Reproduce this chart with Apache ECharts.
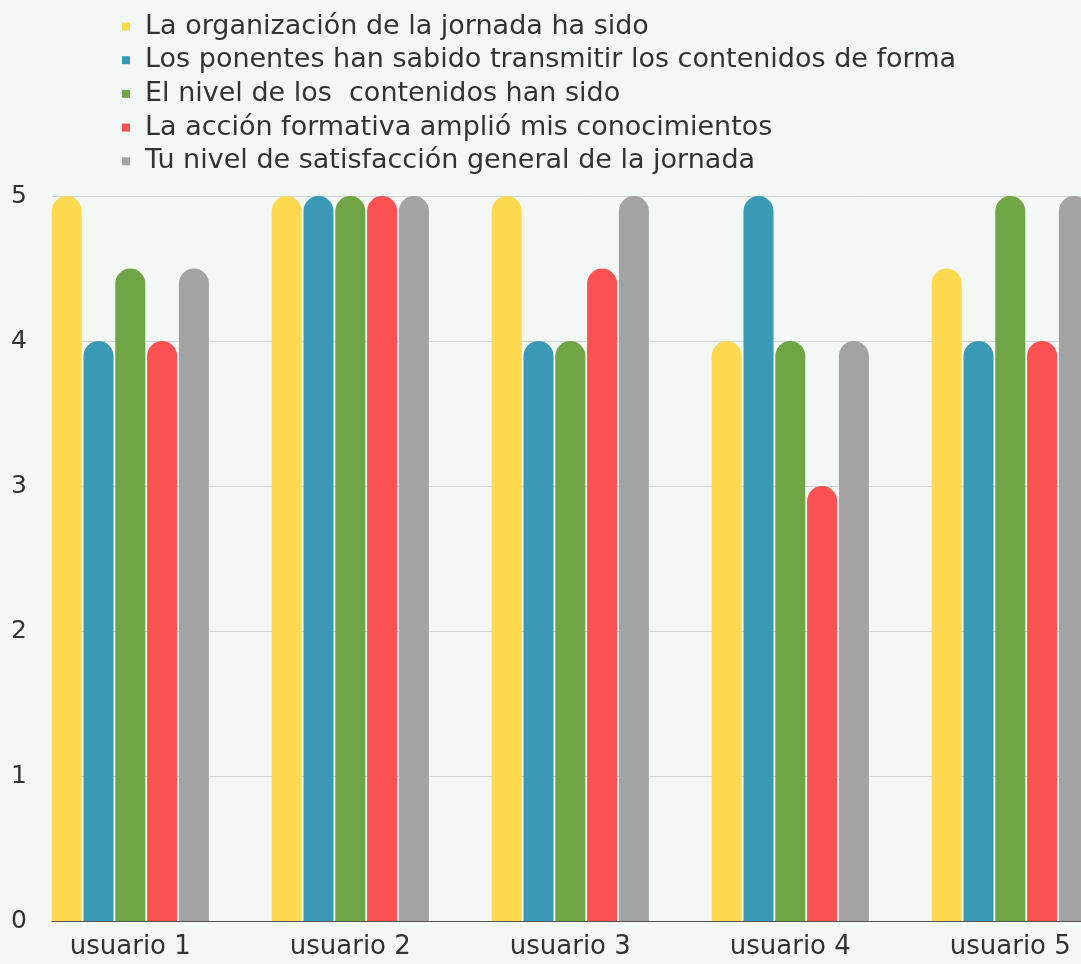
<!DOCTYPE html>
<html>
<head>
<meta charset="utf-8">
<script src="https://cdn.jsdelivr.net/npm/echarts@6/dist/echarts.min.js"></script>
<style>
  html, body { margin: 0; padding: 0; background: #f3f7f5; overflow: hidden; }
  #chart { width: 1125px; height: 964px; }
</style>
</head>
<body>
<div id="chart"></div>
<script>
const users = ['usuario 1', 'usuario 2', 'usuario 3', 'usuario 4', 'usuario 5'];
const seriesNames = [
  'La organización de la jornada ha sido',
  'Los ponentes han sabido transmitir los contenidos de forma',
  'El nivel de los  contenidos han sido',
  'La acción formativa amplió mis conocimientos',
  'Tu nivel de satisfacción general de la jornada'
];
const organizacion = [5, 5, 5, 4, 4.5];
const ponentes = [4, 5, 4, 5, 4];
const nivel = [4.5, 5, 4, 4, 5];
const accion = [4, 5, 4.5, 3, 4];
const satisfaccion = [4.5, 5, 5, 4, 5];
const colors = ['#fdd94f', '#3a9ab5', '#6fa545', '#fa5252', '#a3a3a3'];

const font = 'DejaVu Sans';
const chart = echarts.init(document.getElementById('chart'));

const values = [organizacion, ponentes, nivel, accion, satisfaccion];
const series = values.map((data, i) => ({
  name: seriesNames[i],
  type: 'bar',
  xAxisIndex: 0,
  yAxisIndex: 0,
  barWidth: 30,
  barGap: '6%',
  itemStyle: {
    color: colors[i],
    borderRadius: [15, 15, 0, 0]
  },
  data: data
}));

const option = {
  backgroundColor: '#f3f7f5',
  animation: false,
  color: colors,
  legend: {
    orient: 'vertical',
    left: 117,
    top: 8,
    icon: 'rect',
    itemWidth: 8,
    itemHeight: 8,
    itemGap: 6.7,
    data: seriesNames,
    textStyle: {
      fontFamily: font,
      fontSize: 27,
      lineHeight: 27,
      color: '#333',
      padding: [0, 0, 0, 10]
    }
  },
  grid: [
    { left: 20.3, top: 196, width: 1100, height: 725 },
    { left: 52, top: 196, right: 0, height: 725 }
  ],
  xAxis: [
    {
      type: 'category',
      gridIndex: 0,
      data: users,
      axisLine: { show: false },
      axisTick: { show: false },
      axisLabel: { fontFamily: font, fontSize: 26, color: '#333', margin: 13 }
    },
    {
      type: 'value',
      gridIndex: 1,
      min: 0,
      max: 1,
      axisLine: { show: true, lineStyle: { color: '#555', width: 1 } },
      axisTick: { show: false },
      axisLabel: { show: false },
      splitLine: { show: false }
    }
  ],
  yAxis: [
    {
      type: 'value',
      gridIndex: 0,
      min: 0,
      max: 5,
      interval: 1,
      axisLine: { show: false },
      axisTick: { show: false },
      axisLabel: { show: false },
      splitLine: { show: false }
    },
    {
      type: 'value',
      gridIndex: 1,
      min: 0,
      max: 5,
      interval: 1,
      axisLine: { show: false },
      axisTick: { show: false },
      axisLabel: { fontFamily: font, fontSize: 25, color: '#333', margin: 25 },
      splitLine: { lineStyle: { color: '#cfd4d4', width: 1 } }
    }
  ],
  series: series
};

chart.setOption(option);
</script>
</body>
</html>
